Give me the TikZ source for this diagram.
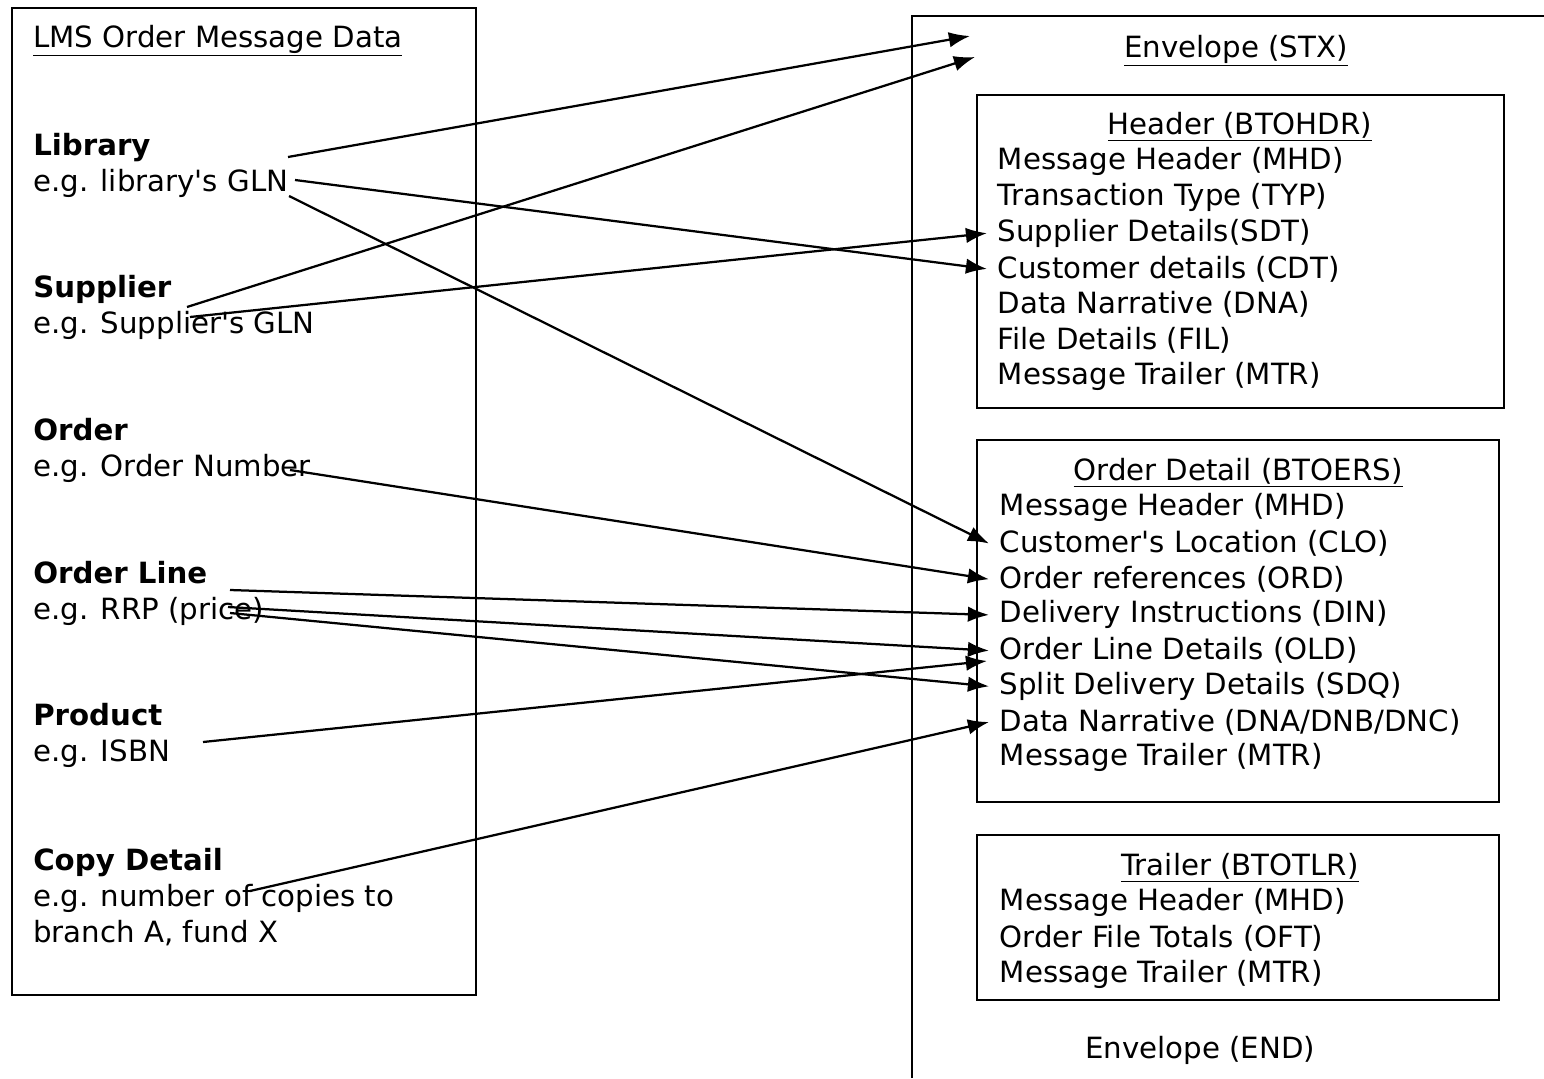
\documentclass[tikz,border=0pt]{standalone}
\usepackage{fontspec}
\setmainfont{DejaVu Sans}
\usetikzlibrary{arrows.meta, positioning}

\newcommand{\apos}{\textquotesingle}

\tikzset{
	msg/.style={anchor=west, inner sep=0pt, align=left, yshift=-2pt, font=\fontsize{20.8pt}{25.6pt}\selectfont},
	seg/.style={anchor=west, inner ysep=0pt, inner xsep=7.5pt, yshift=-2pt, font=\fontsize{20.8pt}{25.6pt}\selectfont},
	segtitle/.style={inner sep=0pt, yshift=-2pt, font=\fontsize{20.8pt}{25.6pt}\selectfont},
	box/.style={draw, line width=1.3pt},
	maparrow/.style={-{Latex[length=15pt,width=11pt]}, line width=1.6pt},
}

\begin{document}
\begin{tikzpicture}[x=0.025cm, y=-0.025cm]
			\useasboundingbox (0,0) rectangle (1544,1078);
			% LMS side
			\draw[box] (12,8) rectangle (476,995);
			\node[msg] (lms) at (33,38) {\underline{LMS Order Message Data}};
			\node[msg] (library) at (33,163) {\textbf{Library}\\e.g. library\apos s GLN};
			\node[msg] (supplier) at (33,305) {\textbf{Supplier}\\e.g. Supplier\apos s GLN};
			\node[msg] (order) at (33,448) {\textbf{Order}\\e.g. Order Number};
			\node[msg] (orderline) at (33,591) {\textbf{Order Line}\\e.g. RRP (price)};
			\node[msg] (product) at (33,733) {\textbf{Product}\\e.g. ISBN};
			\node[msg] (copy) at (33,894) {\textbf{Copy Detail}\\e.g. number of copies to\\branch A, fund X};
			% envelope
			\draw[box] (912,1078) |- (1544,16);
			\node[segtitle] (stx) at (1236,48) {\underline{Envelope (STX)}};
			\node[segtitle] (end) at (1200,1048) {Envelope (END)};
			% header
			\draw[box] (977,95) rectangle (1504,408);
			\node[segtitle] (hdrtitle) at (1240,124) {\underline{Header (BTOHDR)}};
			\foreach [count=\i] \t in {Message Header (MHD), Transaction Type (TYP), Supplier Details(SDT),
				Customer details (CDT), Data Narrative (DNA), File Details (FIL), Message Trailer (MTR)}{
				\node[seg] (hdr\i) at (987, 123.3+35.7*\i) {\t};
			}
			% order detail
			\draw[box] (977,440) rectangle (1499,802);
			\node[segtitle] (dettitle) at (1238,470) {\underline{Order Detail (BTOERS)}};
			\foreach [count=\i] \t in {Message Header (MHD), Customer\apos s Location (CLO), Order references (ORD),
				Delivery Instructions (DIN), Order Line Details (OLD), Split Delivery Details (SDQ),
				Data Narrative (DNA/DNB/DNC), Message Trailer (MTR)}{
				\node[seg] (det\i) at (989, 469.3+35.7*\i) {\t};
			}
			% trailer
			\draw[box] (977,835) rectangle (1499,1000);
			\node[segtitle] (tlrtitle) at (1240,865) {\underline{Trailer (BTOTLR)}};
			\foreach [count=\i] \t in {Message Header (MHD), Order File Totals (OFT), Message Trailer (MTR)}{
				\node[seg] (tlr\i) at (989, 864.3+35.7*\i) {\t};
			}
			% arrow ends
			\coordinate (libA) at (288,157);
			\coordinate (glnA) at (295,180);
			\coordinate (glnB) at (289,196);
			\coordinate (supA) at (187,307);
			\coordinate (supB) at (190,317);
			\coordinate (ordA) at (290,470);
			\coordinate (olA) at (230,590);
			\coordinate (rrpA) at (228,607);
			\coordinate (rrpB) at (230,613);
			\coordinate (prodA) at (203,742);
			\coordinate (copyA) at (250,891);
			\coordinate (stxA) at (970,36);
			\coordinate (stxB) at (975,57);
			\coordinate (oldB) at (987,661);
			% mapping
			\draw[maparrow] (libA) -- (stxA);
			\draw[maparrow] (supA) -- (stxB);
			\draw[maparrow] (glnA) -- (hdr4.west);
			\draw[maparrow] (supB) -- (hdr3.west);
			\draw[maparrow] (glnB) -- (det2.west);
			\draw[maparrow] (ordA) -- (det3.west);
			\draw[maparrow] (olA) -- (det4.west);
			\draw[maparrow] (rrpA) -- (det5.west);
			\draw[maparrow] (rrpB) -- (det6.west);
			\draw[maparrow] (prodA) -- (oldB);
			\draw[maparrow] (copyA) -- (det7.west);
		\end{tikzpicture}
\end{document}
